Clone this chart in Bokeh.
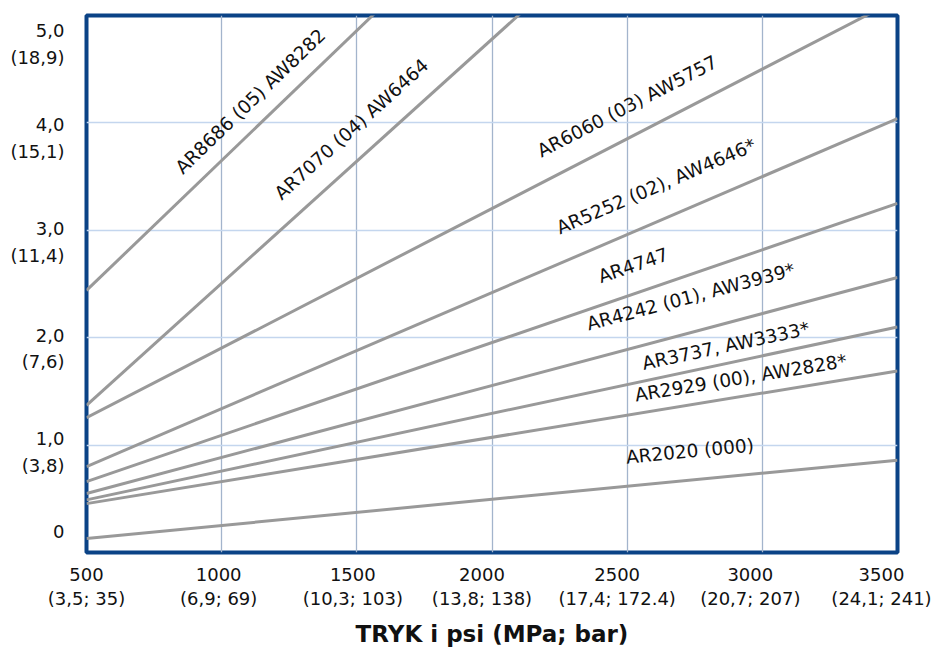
import math
from bokeh.plotting import figure
from bokeh.models import Range1d, FixedTicker, LinearAxis, ColumnDataSource
from bokeh.core.properties import value
from bokeh.embed import file_html
from bokeh.resources import INLINE

# ---------------- data ----------------
pressure_psi = [500, 3500]
series_names = [
    "AR8686 (05) AW8282",
    "AR7070 (04) AW6464",
    "AR6060 (03) AW5757",
    "AR5252 (02), AW4646*",
    "AR4747",
    "AR4242 (01), AW3939*",
    "AR3737, AW3333*",
    "AR2929 (00), AW2828*",
    "AR2020 (000)",
]
flow_at_500 = [2.44, 1.37, 1.255, 0.80, 0.66, 0.55, 0.49, 0.455, 0.13]
flow_at_3500 = [9.70, 8.19, 5.15, 4.04, 3.25, 2.56, 2.10, 1.69, 0.86]

x_tick_values = [500, 1000, 1500, 2000, 2500, 3000, 3500]
x_tick_psi = ["500", "1000", "1500", "2000", "2500", "3000", "3500"]
x_tick_metric = ["(3,5; 35)", "(6,9; 69)", "(10,3; 103)", "(13,8; 138)",
                 "(17,4; 172.4)", "(20,7; 207)", "(24,1; 241)"]
y_tick_values = [0, 1, 2, 3, 4, 5]
y_tick_gpm = ["0", "1,0", "2,0", "3,0", "4,0", "5,0"]
y_tick_lpm = ["", "(3,8)", "(7,6)", "(11,4)", "(15,1)", "(18,9)"]
x_title = "TRYK i psi (MPa; bar)"

# ---------------- layout / style ----------------
W, H = 933, 649
BL, BR, BT, BB = 86, 36, 15, 97
FW, FH = W - BL - BR, H - BT - BB
X0, X1, Y0, Y1 = 500, 3500, 0, 5
PX_PER_PSI = FW / (X1 - X0)
PX_PER_Y = FH / (Y1 - Y0)
FONT = "DejaVu Sans"
TICK_SIZE = "18px"

x_label_nudge_px = [0, -3, -4, -10, -10, -12, -16]
y_label_shift_px = [20.6, 6.4, 2.5, 2.0, -1.8, -15.5]
y_line_gap_px = 26.8

label_at_psi = [1106, 1480, 2500, 2607, 2522, 2735, 2865, 2920, 2732]
label_lift_px = [31.8, 37.0, 32.5, 36.0, 28.8, 36.0, 17.8, 18.8, 29.2]

p = figure(width=W, height=H,
           x_range=Range1d(X0, X1), y_range=Range1d(Y0, Y1),
           output_backend="svg", toolbar_location=None,
           min_border_left=BL, min_border_right=BR,
           min_border_top=BT, min_border_bottom=BB,
           background_fill_color="white", border_fill_color="white")

p.outline_line_color = "#0b4386"
p.outline_line_width = 4
p.outline_line_alpha = 1.0

# grids
p.xgrid.ticker = FixedTicker(ticks=x_tick_values[1:-1])
p.ygrid.ticker = FixedTicker(ticks=y_tick_values[1:-1])
p.xgrid.grid_line_color = "#a3b4cc"
p.ygrid.grid_line_color = "#c4d6ee"
p.xgrid.grid_line_width = 1.3
p.ygrid.grid_line_width = 1.3


def style_axis(ax):
    ax.axis_line_color = None
    ax.major_tick_line_color = None
    ax.minor_tick_line_color = None
    ax.major_tick_out = 0
    ax.major_tick_in = 0
    ax.minor_tick_out = 0
    ax.minor_tick_in = 0
    ax.major_label_text_font = FONT
    ax.major_label_text_font_size = TICK_SIZE
    ax.major_label_text_color = "#111111"


# x axis: two rows of labels
x_pos = [round(v + n / PX_PER_PSI, 1) for v, n in zip(x_tick_values, x_label_nudge_px)]
ax1 = p.xaxis[0]
style_axis(ax1)
ax1.ticker = FixedTicker(ticks=x_pos)
ax1.major_label_overrides = {k: t for k, t in zip(x_pos, x_tick_psi)}
ax1.major_label_standoff = 15

ax2 = LinearAxis()
style_axis(ax2)
ax2.ticker = FixedTicker(ticks=x_pos)
ax2.major_label_overrides = {k: t for k, t in zip(x_pos, x_tick_metric)}
ax2.major_label_standoff = 4
ax2.axis_label = x_title
ax2.axis_label_text_font = FONT
ax2.axis_label_text_font_style = "bold"
ax2.axis_label_text_font_size = "23px"
ax2.axis_label_text_color = "#111111"
ax2.axis_label_standoff = 9
p.add_layout(ax2, "below")

# y axis: two lines per value, drawn as separate ticks
y_pos, y_txt = [], []
for v, s, a, b in zip(y_tick_values, y_label_shift_px, y_tick_gpm, y_tick_lpm):
    top = round(v + s / PX_PER_Y, 4)
    y_pos.append(top)
    y_txt.append(a)
    if b:
        bot = round(top - y_line_gap_px / PX_PER_Y, 4)
        y_pos.append(bot)
        y_txt.append(b)
ay = p.yaxis[0]
style_axis(ay)
ay.ticker = FixedTicker(ticks=y_pos)
ay.major_label_overrides = {k: t for k, t in zip(y_pos, y_txt)}
ay.major_label_standoff = 22

# lines
src = ColumnDataSource(dict(
    xs=[list(pressure_psi) for _ in series_names],
    ys=[[a, b] for a, b in zip(flow_at_500, flow_at_3500)],
))
p.multi_line(xs="xs", ys="ys", source=src, line_color="#999999", line_width=3)

# rotated labels
lx, ly, ang = [], [], []
for a, b, xp, lift in zip(flow_at_500, flow_at_3500, label_at_psi, label_lift_px):
    slope = (b - a) / (pressure_psi[1] - pressure_psi[0])
    yl = a + slope * (xp - pressure_psi[0])
    lx.append(xp)
    ly.append(yl + lift / PX_PER_Y)
    ang.append(math.atan(slope * PX_PER_Y / PX_PER_PSI))
p.text(x=lx, y=ly, text=series_names, angle=ang,
       text_font=value(FONT), text_font_size="18.5px",
       text_align="center", text_baseline="middle", text_color="#111111")

open("out.html", "w").write(file_html(p, INLINE))
